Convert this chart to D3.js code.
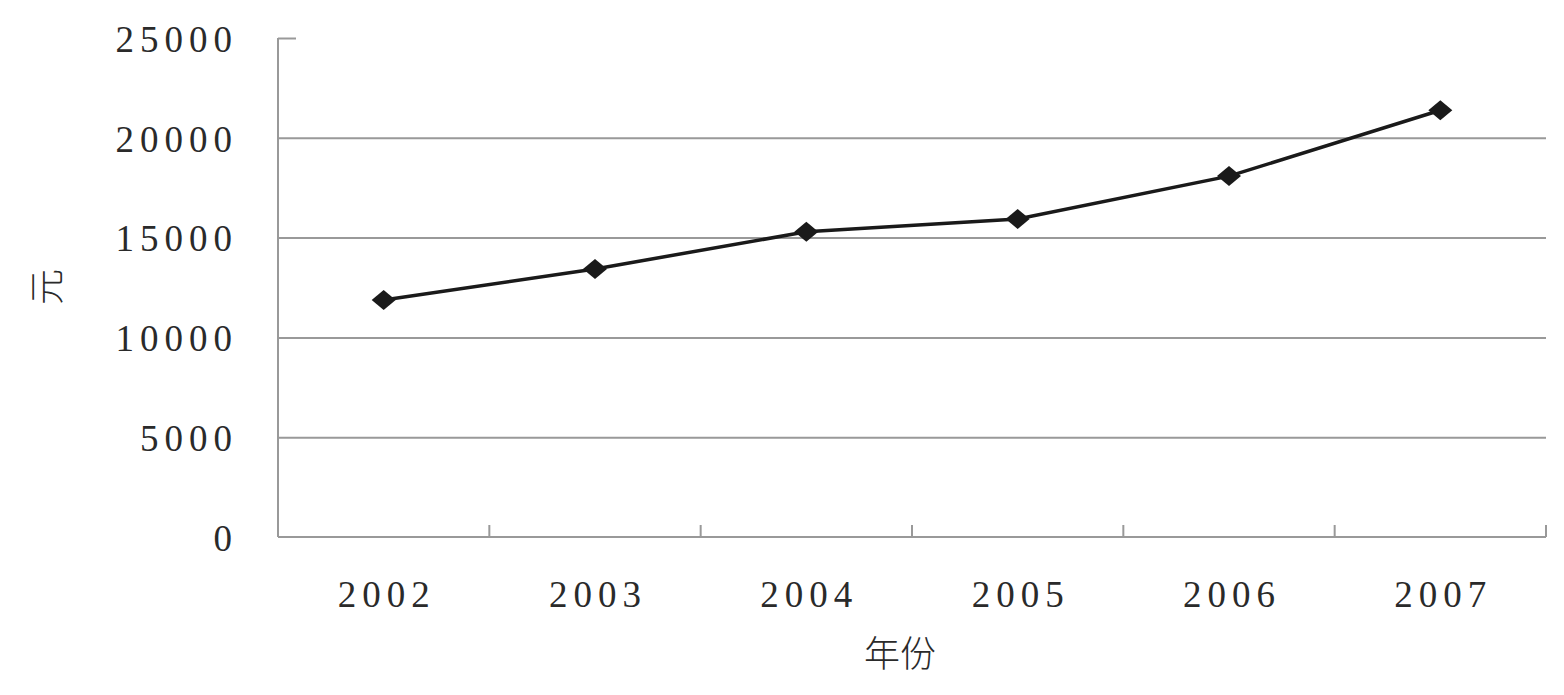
<!DOCTYPE html>
<html>
<head>
<meta charset="utf-8">
<script src="https://cdn.jsdelivr.net/npm/d3@7"></script>
<style>
  body { margin: 0; background: #fff; }
  svg text { font-family: "Liberation Serif", "DejaVu Serif", serif; fill: #2a2a2a; }
</style>
</head>
<body>
<div id="chart"></div>
<script>
var years = ['2002', '2003', '2004', '2005', '2006', '2007'];
var incomes = [11870, 13430, 15290, 15930, 18080, 21380];
var yTicks = [0, 5000, 10000, 15000, 20000, 25000];

var width = 1564,
  height = 695;
var plotLeft = 278, plotRight = 1546, plotTop = 38, plotBottom = 537;

var svg = d3.select('#chart')
  .append('svg')
  .attr('width', width)
  .attr('height', height);

var xScale = d3.scaleBand().domain(years).range([plotLeft, plotRight]).padding(0);
var yScale = d3.scaleLinear().domain([0, 25000]).range([plotBottom, plotTop]);

// y axis with gridlines
var yAxis = svg.append('g')
  .attr('transform', 'translate(' + plotLeft + ',0)')
  .call(d3.axisLeft(yScale)
    .tickValues(yTicks)
    .tickFormat(d3.format('d'))
    .tickSize(-(plotRight - plotLeft))
    .tickPadding(46));

yAxis.select('.domain').remove();
yAxis.selectAll('.tick line')
  .attr('stroke', '#999')
  .attr('stroke-width', 2)
  .attr('x2', function(d) {
    return d == 25000 ? 18 : (plotRight - plotLeft);
  })
  .style('display', function(d) { return d == 0 ? 'none' : null; });

yAxis.selectAll('.tick text')
  .attr('font-size', '37px')
  .style('letter-spacing', '6px')
  .attr('dx', '6px')
  .attr('dy', '0.36em')
  .attr('fill', '#2a2a2a');

svg.append('line')
  .attr('x1', plotLeft).attr('x2', plotLeft)
  .attr('y1', plotTop).attr('y2', plotBottom)
  .attr('stroke', '#999').attr('stroke-width', 2);

// x axis
svg.append('line')
  .attr('x1', plotLeft).attr('x2', plotRight)
  .attr('y1', plotBottom).attr('y2', plotBottom)
  .attr('stroke', '#999').attr('stroke-width', 2);

svg.selectAll('.xtick')
  .data(years)
  .enter().append('line')
  .attr('class', 'xtick')
  .attr('x1', function(d) { return xScale(d) + xScale.bandwidth(); })
  .attr('x2', function(d) { return xScale(d) + xScale.bandwidth(); })
  .attr('y1', plotBottom)
  .attr('y2', plotBottom - 12)
  .attr('stroke', '#999').attr('stroke-width', 2);

svg.selectAll('.xlabel')
  .data(years)
  .enter().append('text')
  .attr('class', 'xlabel')
  .attr('x', function(d) { return xScale(d) + xScale.bandwidth() / 2 + 3; })
  .attr('y', 607)
  .attr('text-anchor', 'middle')
  .attr('font-size', '37px')
  .style('letter-spacing', '6px')
  .text(function(d) { return d; });

// line
var line = d3.line()
  .x(function(d, i) { return xScale(years[i]) + xScale.bandwidth() / 2; })
  .y(function(d) { return yScale(d); });

svg.append('path')
  .datum(incomes)
  .attr('d', line)
  .attr('fill', 'none')
  .attr('stroke', '#1a1a1a')
  .attr('stroke-width', 3.5);

svg.selectAll('.marker')
  .data(incomes)
  .enter().append('path')
  .attr('class', 'marker')
  .attr('d', 'M0,-10L12,0L0,10L-12,0Z')
  .attr('transform', function(d, i) {
    return 'translate(' + (xScale(years[i]) + xScale.bandwidth() / 2) + ',' + yScale(d) + ')';
  })
  .attr('fill', '#1a1a1a');

// axis titles
svg.append('text')
  .attr('x', 900)
  .attr('y', 667)
  .attr('text-anchor', 'middle')
  .attr('font-size', '36px')
  .style('font-family', '"Noto Sans CJK SC", sans-serif')
  .style('font-weight', 300)
  .attr('fill', '#444')
  .text('年份');

svg.append('text')
  .attr('transform', 'translate(60,287) rotate(-90)')
  .attr('text-anchor', 'middle')
  .attr('font-size', '36px')
  .style('font-family', '"Noto Sans CJK SC", sans-serif')
  .style('font-weight', 300)
  .attr('fill', '#444')
  .text('元');
</script>
</body>
</html>
